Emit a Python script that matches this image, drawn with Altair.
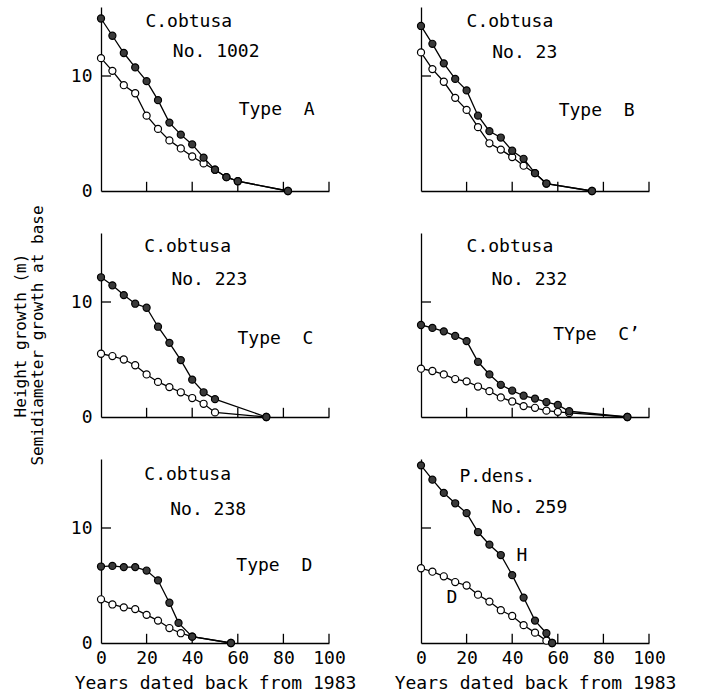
import altair as alt
import pandas as pd

FONT = "DejaVu Sans Mono"
NB = "\u00a0"  # keeps the wide gap in the "Type  X" labels

# Axis ticks / labels
x_tick_values = [0, 20, 40, 60, 80, 100]
x_inner_ticks = [20, 40, 60, 80, 100]
y_tick_values = [0, 10]
x_title = "Years dated back from 1983"
y_title = ["Height growth (m)", "Semidiameter growth at base"]

# C.obtusa No. 1002 (Type A): height (filled) and semidiameter (open)
h1002_x = [0, 5, 10, 15, 20, 25, 30, 35, 40, 45, 50, 55, 60, 82]
h1002_y = [15.0, 13.5, 12.0, 10.75, 9.55, 7.9, 5.95, 4.9, 4.05, 2.9, 1.85, 1.2, 0.85, 0]
d1002_x = [0, 5, 10, 15, 20, 25, 30, 35, 40, 45, 50, 55, 60, 82]
d1002_y = [11.55, 10.45, 9.2, 8.5, 6.55, 5.4, 4.4, 3.7, 3.0, 2.4, 1.85, 1.2, 0.85, 0]

# C.obtusa No. 23 (Type B)
h23_x = [0, 5, 10, 15, 20, 25, 30, 35, 40, 45, 50, 55, 75]
h23_y = [14.35, 12.8, 11.1, 9.75, 8.75, 6.55, 5.2, 4.65, 3.5, 2.8, 1.55, 0.65, 0]
d23_x = [0, 5, 10, 15, 20, 25, 30, 35, 40, 45, 50, 55, 75]
d23_y = [12.05, 10.6, 9.5, 8.1, 7.05, 5.55, 4.15, 3.6, 2.95, 2.2, 1.55, 0.65, 0]

# C.obtusa No. 223 (Type C)
h223_x = [0, 5, 10, 15, 20, 25, 30, 35, 40, 45, 50, 72.5]
h223_y = [12.15, 11.45, 10.6, 9.85, 9.5, 7.85, 6.45, 4.95, 3.25, 2.15, 1.55, 0]
d223_x = [0, 5, 10, 15, 20, 25, 30, 35, 40, 45, 50, 72.5]
d223_y = [5.5, 5.3, 5.0, 4.5, 3.7, 3.05, 2.6, 2.15, 1.65, 1.15, 0.4, 0]

# C.obtusa No. 232 (Type C')
h232_x = [0, 5, 10, 15, 20, 25, 30, 35, 40, 45, 50, 55, 60, 65, 90.5]
h232_y = [8.0, 7.75, 7.45, 7.05, 6.6, 4.8, 3.7, 2.8, 2.3, 1.85, 1.6, 1.3, 1.05, 0.5, 0]
d232_x = [0, 5, 10, 15, 20, 25, 30, 35, 40, 45, 50, 55, 60, 65, 90.5]
d232_y = [4.2, 4.0, 3.7, 3.3, 3.1, 2.65, 2.25, 1.7, 1.35, 0.95, 0.8, 0.55, 0.45, 0.35, 0]

# C.obtusa No. 238 (Type D)
h238_x = [0, 5, 10, 15, 20, 25, 30, 34, 40, 57]
h238_y = [6.65, 6.7, 6.6, 6.6, 6.3, 5.45, 3.5, 1.75, 0.55, 0]
d238_x = [0, 5, 10, 15, 20, 25, 30, 35, 40, 57]
d238_y = [3.8, 3.35, 3.1, 2.95, 2.45, 1.95, 1.3, 0.85, 0.55, 0]

# P.dens. No. 259 (H = height, D = semidiameter)
h259_x = [0, 5, 10, 15, 20, 25, 30, 35, 40, 45, 50, 55, 57.5]
h259_y = [15.45, 14.2, 13.05, 12.15, 11.3, 9.65, 8.55, 7.65, 5.9, 3.95, 1.95, 0.85, 0]
d259_x = [0, 5, 10, 15, 20, 25, 30, 35, 40, 45, 50, 55, 57.5]
d259_y = [6.5, 6.2, 5.8, 5.3, 5.0, 4.2, 3.6, 2.85, 2.35, 1.55, 0.9, 0.2, 0]

# In-panel annotations: (year, value, text)
notes_1002 = [(38.5, 14.7, "C.obtusa"), (50.5, 12.1, "No. 1002"), (77, 7.05, "Type" + NB * 2 + "A")]
notes_23 = [(39, 14.7, "C.obtusa"), (45.5, 12.0, "No. 23"), (77, 7.0, "Type" + NB * 2 + "B")]
notes_223 = [(38, 14.8, "C.obtusa"), (47.5, 11.9, "No. 223"), (76.5, 6.75, "Type" + NB * 2 + "C")]
notes_232 = [(39, 14.8, "C.obtusa"), (47.5, 11.9, "No. 232"), (77, 7.1, "TYpe" + NB * 2 + "C\u2019")]
notes_238 = [(38, 14.6, "C.obtusa"), (47, 11.6, "No. 238"), (76, 6.7, "Type" + NB * 2 + "D")]
notes_259 = [(33.5, 14.4, "P.dens."), (47.5, 11.7, "No. 259"), (44.3, 7.6, "H"), (13.6, 3.9, "D")]

W, H = 228, 184


def panel(hx, hy, dx, dy, notes, left, bottom, with_ytitle=False):
    x_axis = alt.Axis(values=x_tick_values, ticks=False, grid=False, labels=bottom,
                      labelFlush=False, labelFont=FONT, labelFontSize=18, labelPadding=6,
                      titleFont=FONT, titleFontSize=18, titleFontWeight="normal",
                      titlePadding=7, domainColor="black", domainWidth=1.3,
                      labelColor="black", titleColor="black")
    y_axis_kw = dict(values=y_tick_values, ticks=False, grid=False, labels=left,
                     labelFlush=False, labelFont=FONT, labelFontSize=18, labelPadding=9,
                     domainColor="black", domainWidth=1.3, labelColor="black")
    if with_ytitle:
        y_axis_kw.update(titleFont=FONT, titleFontSize=16, titleFontWeight="normal",
                         titleLineHeight=17, titleColor="black", titlePadding=25,
                         titleY=102)
    y_axis = alt.Axis(**y_axis_kw)
    xt = x_title if bottom else None
    yt = y_title if with_ytitle else None
    X = alt.X("year:Q", scale=alt.Scale(domain=[0, 100], nice=False, zero=False),
              axis=x_axis, title=xt)
    Y = alt.Y("value:Q", scale=alt.Scale(domain=[0, 16], nice=False),
              axis=y_axis, title=yt)

    hdf = pd.DataFrame({"year": hx, "value": hy})
    ddf = pd.DataFrame({"year": dx, "value": dy})
    ndf = pd.DataFrame(notes, columns=["year", "value", "label"])
    xt_df = pd.DataFrame({"year": x_inner_ticks, "value": 0, "value2": 0.8})
    yt_df = pd.DataFrame({"year": [0], "year2": [4.4], "value": [10]})

    d_line = alt.Chart(ddf).mark_line(color="black", strokeWidth=1.3).encode(x=X, y=Y)
    h_line = alt.Chart(hdf).mark_line(color="black", strokeWidth=1.3).encode(x=X, y=Y)
    d_pts = alt.Chart(ddf).mark_point(shape="circle", filled=True, fill="white",
                                      stroke="black", strokeWidth=1.2, size=50,
                                      opacity=1).encode(x=X, y=Y)
    h_pts = alt.Chart(hdf).mark_point(shape="circle", filled=True, fill="#3a3a3a",
                                      stroke="black", strokeWidth=1.2, size=50,
                                      opacity=1).encode(x=X, y=Y)
    xticks = alt.Chart(xt_df).mark_rule(color="black", strokeWidth=1.3).encode(
        x=X, y=Y, y2="value2:Q")
    yticks = alt.Chart(yt_df).mark_rule(color="black", strokeWidth=1.3).encode(
        x=X, x2="year2:Q", y=Y)
    text = alt.Chart(ndf).mark_text(font=FONT, fontSize=18, color="black",
                                    align="center", baseline="middle").encode(
        x=X, y=Y, text="label:N")
    return alt.layer(xticks, yticks, d_line, h_line, d_pts, h_pts, text).properties(
        width=W, height=H)


p1 = panel(h1002_x, h1002_y, d1002_x, d1002_y, notes_1002, True, False)
p2 = panel(h23_x, h23_y, d23_x, d23_y, notes_23, False, False)
p3 = panel(h223_x, h223_y, d223_x, d223_y, notes_223, True, False, with_ytitle=True)
p4 = panel(h232_x, h232_y, d232_x, d232_y, notes_232, False, False)
p5 = panel(h238_x, h238_y, d238_x, d238_y, notes_238, True, True)
p6 = panel(h259_x, h259_y, d259_x, d259_y, notes_259, False, True)

chart = alt.concat(p1, p2, p3, p4, p5, p6, columns=2,
                   spacing={"row": 42, "column": 92}, bounds="flush").properties(
    padding={"left": 12, "top": 7, "right": 5, "bottom": 2},
    background="white",
).configure_view(stroke=None)

chart.save("out.html", embed_options={"renderer": "svg", "actions": False})
